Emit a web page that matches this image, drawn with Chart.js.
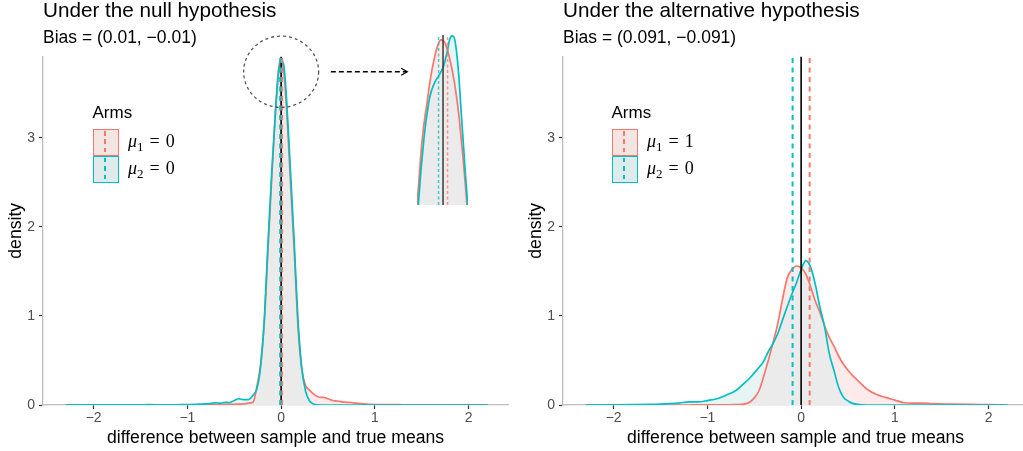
<!DOCTYPE html>
<html>
<head>
<meta charset="utf-8">
<title>Bias of sample means</title>
<script src="https://cdn.jsdelivr.net/npm/chart.js@4.4.1/dist/chart.umd.min.js"></script>
<style>
    body { margin: 0; background: #fff; }
    #page { position: relative; width: 1023px; height: 451px; overflow: hidden; }
    .panel { position: absolute; top: 0; width: 515px; height: 451px; }
    #insetBox { position: absolute; left: 417px; top: 35px; width: 51px; height: 170px; }
    .legend { position: absolute; top: 0; font-family: "Liberation Sans", Arial, sans-serif; }
    .legend .ttl { position: absolute; left: 0; top: 103.9px; font-size: 17px; line-height: 17px; color: #000; white-space: nowrap; }
    .legend .key { position: absolute; left: 0; width: 26.5px; height: 26.5px; box-sizing: border-box; border: 1.5px solid; }
    .legend .key span { position: absolute; left: 10.75px; top: 1px; width: 2px; bottom: 0; }
    .legend .lab { position: absolute; left: 35.5px; font-family: "Liberation Serif", "Times New Roman", serif; font-size: 18px; line-height: 18px; color: #000; white-space: nowrap; }
    .legend .lab sub { font-size: 13px; vertical-align: baseline; position: relative; top: 4px; }
    .legend .lab .eq { margin: 0 6px; }
</style>
</head>
<body>
<div id="page">
    <div class="panel" style="left:0"><canvas id="nullChart"></canvas></div>
    <div class="panel" style="left:520px"><canvas id="altChart"></canvas></div>
    <div id="insetBox"><canvas id="insetChart"></canvas></div>
</div>
<script>
const RED = "#F8766D";
const CYAN = "#00BFC4";
const RED_FILL = "#fcebea";
const CYAN_FILL = "#e6f4f4";
const OVERLAP_FILL = "#ebebeb";
const KEY_FILLS = ["#f3e5e2", "#dfebeb"];

// left panel, under the null hypothesis
const xNull = [-2.3, -2.0, -1.8, -1.6, -1.4, -1.3, -1.2, -1.1, -1.0, -0.9,
    -0.8, -0.75, -0.7, -0.65, -0.6, -0.55, -0.5, -0.45, -0.4, -0.35,
    -0.3, -0.26, -0.22, -0.18, -0.14, -0.1, -0.06, -0.03, 0, 0.03,
    0.06, 0.1, 0.14, 0.18, 0.22, 0.26, 0.3, 0.35, 0.4, 0.45,
    0.5, 0.55, 0.6, 0.65, 0.7, 0.75, 0.8, 0.9, 1.0, 1.1,
    1.2, 1.3, 1.4, 1.6, 1.8, 2.0, 2.2];
const redNull = [0, 0, 0, 0, 0.001, 0.001, 0.001, 0.002, 0.002, 0.003,
    0.004, 0.004, 0.005, 0.005, 0.006, 0.007, 0.008, 0.01, 0.012, 0.02,
    0.03, 0.2, 0.45, 0.92, 1.75, 2.55, 3.3, 3.75, 3.88, 3.72,
    3.3, 2.5, 1.72, 0.88, 0.4, 0.22, 0.17, 0.12, 0.09, 0.085,
    0.07, 0.05, 0.045, 0.035, 0.03, 0.028, 0.02, 0.01, 0.005, 0.004,
    0.005, 0.002, 0.002, 0.001, 0, 0, 0];
const cyanNull = [0, 0.002, 0.001, 0.001, 0.004, 0.002, 0.002, 0.003, 0.004, 0.006,
    0.012, 0.018, 0.025, 0.02, 0.03, 0.028, 0.05, 0.07, 0.06, 0.06,
    0.11, 0.18, 0.42, 0.95, 1.82, 2.62, 3.3, 3.7, 3.87, 3.8,
    3.4, 2.62, 1.82, 0.95, 0.42, 0.16, 0.05, 0.008, 0.002, 0,
    0, 0, 0, 0, 0, 0, 0, 0, 0, 0,
    0, 0, 0, 0, 0, 0, 0];
const biasNull = [0.01, -0.01];
const meansNull = [0, 0];

// right panel, under the alternative hypothesis
const xAlt = [-2.3, -2.0, -1.8, -1.6, -1.5, -1.4, -1.3, -1.2, -1.1, -1.0,
    -0.9, -0.8, -0.7, -0.6, -0.55, -0.5, -0.45, -0.4, -0.35, -0.3,
    -0.25, -0.2, -0.15, -0.1, -0.05, 0, 0.05, 0.1, 0.15, 0.2,
    0.25, 0.3, 0.35, 0.4, 0.45, 0.5, 0.55, 0.6, 0.7, 0.8,
    0.9, 1.0, 1.1, 1.2, 1.3, 1.4, 1.6, 1.8, 2.0, 2.2];
const redAlt = [0, 0, 0, 0, 0, 0, 0, 0, 0.001, 0.001,
    0.001, 0.002, 0.004, 0.012, 0.03, 0.08, 0.16, 0.32, 0.5, 0.7,
    0.91, 1.18, 1.42, 1.52, 1.56, 1.54, 1.47, 1.33, 1.17, 1.04,
    0.89, 0.76, 0.66, 0.55, 0.46, 0.39, 0.33, 0.28, 0.18, 0.12,
    0.085, 0.055, 0.025, 0.02, 0.02, 0.015, 0.01, 0.006, 0.004, 0];
const cyanAlt = [0, 0.002, 0.004, 0.007, 0.01, 0.015, 0.022, 0.035, 0.035, 0.05,
    0.07, 0.11, 0.16, 0.25, 0.3, 0.36, 0.42, 0.49, 0.6, 0.69,
    0.8, 0.95, 1.1, 1.24, 1.37, 1.52, 1.62, 1.55, 1.36, 1.1,
    0.88, 0.58, 0.39, 0.2, 0.09, 0.045, 0.018, 0.006, 0, 0,
    0, 0, 0, 0, 0, 0, 0, 0, 0, 0];
const biasAlt = [0.091, -0.091];
const meansAlt = [1, 0];

// zoomed view of the null peak
const xInset = [-0.06, -0.055, -0.05, -0.045, -0.04, -0.035, -0.03, -0.025, -0.02, -0.015,
    -0.01, -0.005, 0, 0.005, 0.01, 0.015, 0.02, 0.025, 0.03, 0.035,
    0.04, 0.045, 0.05, 0.055, 0.06];
const redInset = [3.26, 3.36, 3.47, 3.56, 3.625, 3.68, 3.74, 3.79, 3.83, 3.865,
    3.89, 3.902, 3.9, 3.888, 3.865, 3.832, 3.795, 3.75, 3.695, 3.63,
    3.55, 3.464, 3.37, 3.26, 3.15];
const cyanInset = [3.2, 3.3, 3.41, 3.5, 3.58, 3.64, 3.69, 3.72, 3.742, 3.758,
    3.77, 3.785, 3.8, 3.83, 3.865, 3.905, 3.917, 3.91, 3.86, 3.775,
    3.65, 3.53, 3.41, 3.3, 3.18];

const xTickValues = [-2, -1, 0, 1, 2];
const xTickLabels = ["\u22122", "\u22121", "0", "1", "2"];
const yTickValues = [0, 1, 2, 3];
const yTickLabels = ["0", "1", "2", "3"];

const X_MIN = -2.54;
const X_MAX = 2.42;
const Y_MAX = 3.91;

// circle round the peak and the arrow pointing at the inset, in data units
const zoomCircle = { x: 0, y: 3.74, r: 0.4 };
const zoomArrow = { from: 0.53, to: 1.345, y: 3.74 };

Chart.defaults.font.family = "'Liberation Sans', Arial, Helvetica, sans-serif";
Chart.defaults.color = "#000";

function minus(v) {
    return String(v).replace("-", "\u2212");
}

function toPoints(xs, values) {
    return xs.map((x, i) => ({ x: x, y: values[i] }));
}

function densityDatasets(xs, red, cyan, fillTo) {
    const overlap = red.map((v, i) => Math.min(v, cyan[i]));
    const base = {
        pointRadius: 0,
        cubicInterpolationMode: "monotone",
        borderWidth: 0,
        borderColor: "rgba(0,0,0,0)",
        fill: fillTo,
    };
    return [
        { ...base, data: toPoints(xs, red), backgroundColor: RED_FILL, order: 9 },
        { ...base, data: toPoints(xs, cyan), backgroundColor: CYAN_FILL, order: 8 },
        { ...base, data: toPoints(xs, overlap), backgroundColor: OVERLAP_FILL, order: 7 },
        { ...base, data: toPoints(xs, red), fill: false, borderColor: RED, borderWidth: 1.7, order: 6 },
        { ...base, data: toPoints(xs, cyan), fill: false, borderColor: CYAN, borderWidth: 1.7, order: 5 },
    ];
}

function vlineDatasets(bias, yLow, yHigh, colors, dash, widths) {
    const seg = (x) => [{ x: x, y: yLow }, { x: x, y: yHigh }];
    const base = { pointRadius: 0, fill: false };
    return [
        { ...base, data: seg(0), borderColor: colors[2], borderWidth: widths[0], order: 4 },
        { ...base, data: seg(bias[0]), borderColor: colors[0], borderWidth: widths[1], borderDash: dash, order: 3 },
        { ...base, data: seg(bias[1]), borderColor: colors[1], borderWidth: widths[1], borderDash: dash, order: 2 },
    ];
}

const zoomMarks = {
    id: "zoomMarks",
    afterDatasetsDraw(chart) {
        const { ctx, scales } = chart;
        const x = scales.x;
        const y = scales.y;
        const cx = x.getPixelForValue(zoomCircle.x);
        const cy = y.getPixelForValue(zoomCircle.y);
        const rx = x.getPixelForValue(zoomCircle.x + zoomCircle.r) - cx;
        const ry = cy - y.getPixelForValue(zoomCircle.y + zoomCircle.r);
        ctx.save();
        ctx.lineWidth = 1.3;
        ctx.strokeStyle = "#555";
        ctx.setLineDash([3, 3]);
        ctx.beginPath();
        ctx.ellipse(cx, cy, rx, ry, 0, 0, 2 * Math.PI);
        ctx.stroke();

        const x0 = x.getPixelForValue(zoomArrow.from);
        const x1 = x.getPixelForValue(zoomArrow.to);
        const ay = y.getPixelForValue(zoomArrow.y);
        ctx.strokeStyle = "#000";
        ctx.setLineDash([5, 3]);
        ctx.beginPath();
        ctx.moveTo(x0, ay);
        ctx.lineTo(x1 - 1, ay);
        ctx.stroke();
        ctx.setLineDash([]);
        ctx.beginPath();
        ctx.moveTo(x1 - 6, ay - 3.5);
        ctx.lineTo(x1, ay);
        ctx.lineTo(x1 - 6, ay + 3.5);
        ctx.stroke();
        ctx.restore();
    },
};

function panelOptions(title, subtitle) {
    const tickFont = { size: 14 };
    return {
        responsive: true,
        maintainAspectRatio: false,
        animation: false,
        devicePixelRatio: 1,
        events: [],
        layout: { padding: { left: 0, top: 0, right: 7, bottom: 0 } },
        plugins: {
            legend: { display: false },
            tooltip: { enabled: false },
            title: {
                display: true,
                text: title,
                align: "start",
                fullSize: false,
                color: "#000",
                font: { size: 20.7, weight: "normal", lineHeight: 1.1 },
                padding: { top: 0, bottom: 5.5 },
            },
            subtitle: {
                display: true,
                text: subtitle,
                align: "start",
                fullSize: false,
                color: "#000",
                font: { size: 17.5, weight: "normal", lineHeight: 1.1 },
                padding: { top: 0, bottom: 9.1 },
            },
        },
        scales: {
            x: {
                type: "linear",
                min: X_MIN,
                max: X_MAX,
                afterBuildTicks: (scale) => {
                    scale.ticks = xTickValues.map((v) => ({ value: v }));
                },
                afterFit: (scale) => {
                    scale.height = 46;
                },
                ticks: {
                    color: "#4d4d4d",
                    font: tickFont,
                    padding: 1,
                    maxRotation: 0,
                    callback: (v) => xTickLabels[xTickValues.indexOf(v)],
                },
                grid: { drawOnChartArea: false, tickLength: 4, tickColor: "#333", tickWidth: 1.2 },
                border: { color: "#bdbdbd", width: 1.3 },
                title: {
                    display: true,
                    text: "difference between sample and true means",
                    color: "#000",
                    font: { size: 17.6 },
                    padding: { top: 0, bottom: 2.4 },
                },
            },
            y: {
                type: "linear",
                min: 0,
                max: Y_MAX,
                afterBuildTicks: (scale) => {
                    scale.ticks = yTickValues.map((v) => ({ value: v }));
                },
                afterFit: (scale) => {
                    scale.width = 43;
                },
                ticks: {
                    color: "#4d4d4d",
                    font: tickFont,
                    padding: 4,
                    callback: (v) => yTickLabels[yTickValues.indexOf(v)],
                },
                grid: { drawOnChartArea: false, tickLength: 4, tickColor: "#333", tickWidth: 1.2 },
                border: { color: "#bdbdbd", width: 1.3 },
                title: {
                    display: true,
                    text: "density",
                    color: "#000",
                    font: { size: 17.6 },
                    padding: { top: 5.5, bottom: 0 },
                },
            },
        },
    };
}

function makePanel(canvasId, xs, red, cyan, bias, title, plugins) {
    const subtitle = "Bias = (" + minus(bias[0]) + ", " + minus(bias[1]) + ")";
    return new Chart(document.getElementById(canvasId), {
        type: "line",
        data: {
            datasets: [
                ...densityDatasets(xs, red, cyan, "origin"),
                ...vlineDatasets(bias, 0, Y_MAX, [RED, CYAN, "#000"], [5, 4.5], [1.6, 2]),
            ],
        },
        options: panelOptions(title, subtitle),
        plugins: plugins,
    });
}

function makeInset() {
    return new Chart(document.getElementById("insetChart"), {
        type: "line",
        data: {
            datasets: [
                ...densityDatasets(xInset, redInset, cyanInset, "start"),
                ...vlineDatasets(biasNull, 3.3, 3.92,
                    ["rgba(248,118,109,0.75)", "rgba(0,191,196,0.75)", "#3a3a3a"], [3, 2.5], [1.5, 1.5]),
            ],
        },
        options: {
            responsive: true,
            maintainAspectRatio: false,
            animation: false,
            devicePixelRatio: 1,
            events: [],
            layout: { padding: 0 },
            plugins: { legend: { display: false }, tooltip: { enabled: false } },
            scales: {
                x: { type: "linear", display: false, min: -0.058, max: 0.0556 },
                y: { type: "linear", display: false, min: 3.3, max: 3.92 },
            },
        },
    });
}

function buildLegend(left, means) {
    const box = document.createElement("div");
    box.className = "legend";
    box.style.left = left + "px";
    let html = '<div class="ttl">Arms</div>';
    [RED, CYAN].forEach((color, i) => {
        const dash = "repeating-linear-gradient(to bottom, " + color + " 0 4.5px, transparent 4.5px 8.5px)";
        html += '<div class="key" style="top:' + (129 + i * 27) + "px;border-color:" + color +
            ";background:" + KEY_FILLS[i] + '"><span style="background:' + dash + '"></span></div>';
        html += '<div class="lab" style="top:' + (131.6 + i * 27) + 'px"><i>\u03bc</i><sub>' + (i + 1) +
            '</sub><span class="eq">=</span>' + means[i] + "</div>";
    });
    box.innerHTML = html;
    document.getElementById("page").appendChild(box);
}

makePanel("nullChart", xNull, redNull, cyanNull, biasNull, "Under the null hypothesis", [zoomMarks]);
makePanel("altChart", xAlt, redAlt, cyanAlt, biasAlt, "Under the alternative hypothesis", []);
makeInset();
buildLegend(92.5, meansNull);
buildLegend(611.5, meansAlt);
</script>
</body>
</html>
